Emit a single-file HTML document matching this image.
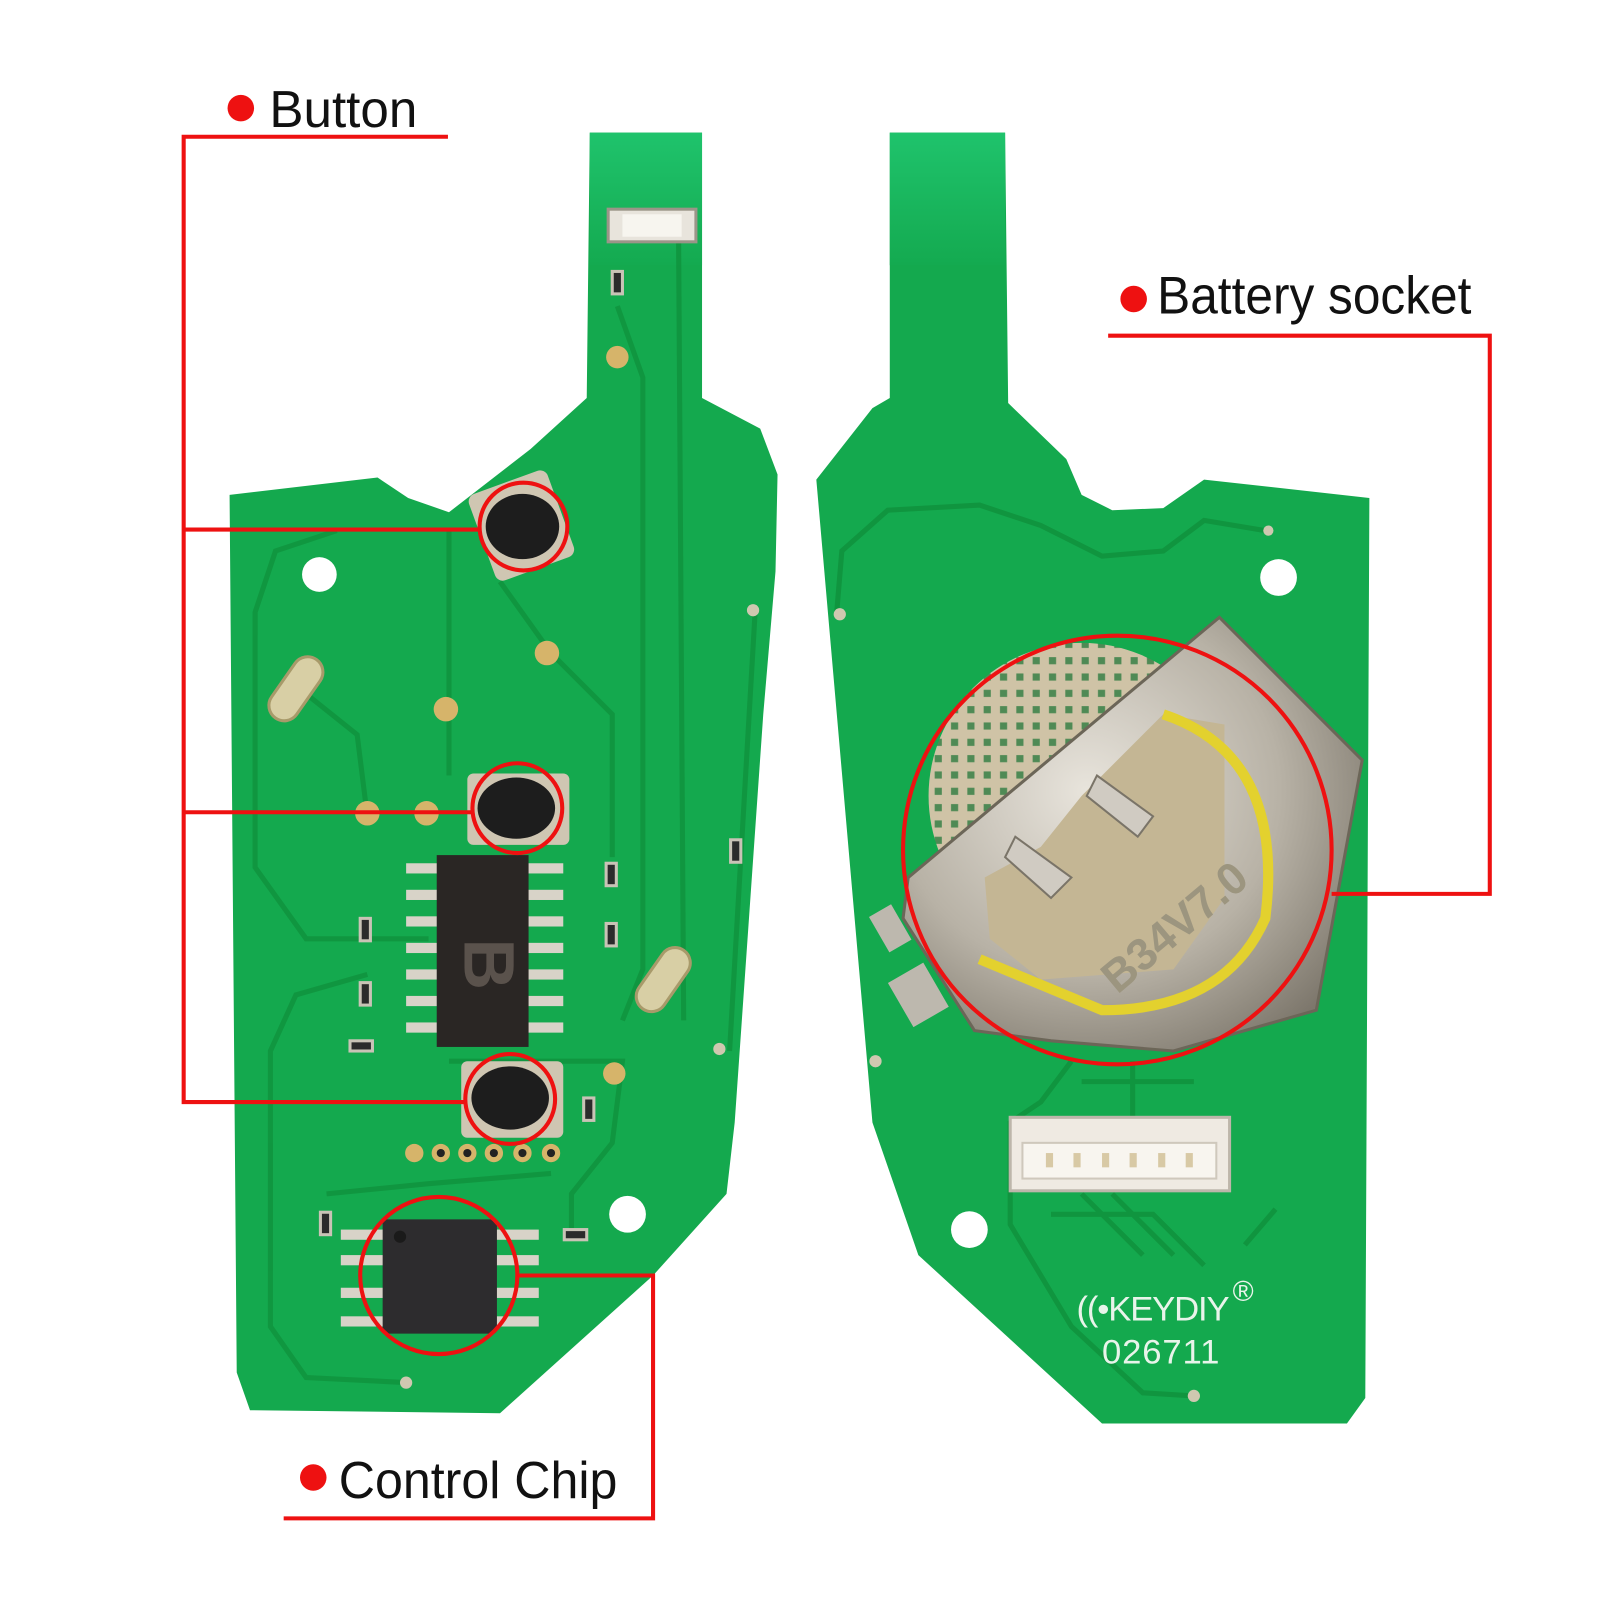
<!DOCTYPE html>
<html><head><meta charset="utf-8"><style>
html,body{margin:0;padding:0;background:#fff;}
svg{display:block}
text{font-family:"Liberation Sans","DejaVu Sans",sans-serif;}
</style></head><body>
<svg width="1600" height="1600" viewBox="0 0 1600 1600" xmlns="http://www.w3.org/2000/svg">
<defs>
<linearGradient id="tab" x1="0" y1="0" x2="0" y2="1">
<stop offset="0" stop-color="#1fc36c"/><stop offset="1" stop-color="#14aa50"/>
</linearGradient>
<radialGradient id="met" cx="0.4" cy="0.4" r="0.7">
<stop offset="0" stop-color="#e8e4dc"/><stop offset="0.6" stop-color="#b8b2a6"/><stop offset="1" stop-color="#7d776c"/>
</radialGradient>
<pattern id="dots" width="16" height="16" patternUnits="userSpaceOnUse">
<rect width="16" height="16" fill="#cfc3a6"/><rect x="4" y="4" width="7" height="7" fill="#4f8a55"/>
</pattern>
</defs>
<rect width="1600" height="1600" fill="#fff"/>
<g transform="scale(1.0204)">

<!-- LEFT PCB -->
<path d="M578 130 L688 130 L688 390 L745 420 L762 465 L760 560 L748 700 L720 1100 L712 1170 L640 1250 L490 1385 L245 1382 L232 1345 L225 485 L370 468 L400 488 L440 502 L520 440 L575 390 Z" fill="#14a94e"/>
<rect x="578" y="130" width="110" height="130" fill="url(#tab)"/>
<g fill="none" stroke="#10953f" stroke-width="5" opacity="0.9">
<path d="M330 520 L270 540 L250 600 L250 850 L300 920 L420 920"/>
<path d="M360 955 L290 975 L265 1030 L265 1300 L300 1350 L400 1355"/>
<path d="M605 300 L630 370 L630 950 L610 1000"/>
<path d="M665 230 L670 1000"/>
<path d="M440 520 L440 760"/>
<path d="M490 570 L540 640 L600 700 L600 840"/>
<path d="M740 600 L715 1030"/>
<path d="M300 680 L350 720 L360 800"/>
<path d="M440 1040 L610 1040 L600 1120 L560 1170 L560 1210"/>
<path d="M320 1170 L420 1160 L540 1150"/>
</g>
<circle cx="313" cy="563" r="17" fill="#fff"/>
<circle cx="615" cy="1190" r="18" fill="#fff"/>
<circle cx="605" cy="350" r="11" fill="#d6b46a"/>
<circle cx="536" cy="640" r="12" fill="#d6b46a"/>
<circle cx="437" cy="695" r="12" fill="#d6b46a"/>
<circle cx="360" cy="797" r="12" fill="#d6b46a"/>
<circle cx="418" cy="797" r="12" fill="#d6b46a"/>
<circle cx="602" cy="1052" r="11" fill="#d6b46a"/>
<circle cx="738" cy="598" r="6" fill="#cfc8b0"/>
<circle cx="705" cy="1028" r="6" fill="#cfc8b0"/>
<circle cx="398" cy="1355" r="6" fill="#cfc8b0"/>
<rect x="275" y="640" width="30" height="70" rx="15" transform="rotate(35 290 675)" fill="#d8cfa5" stroke="#a89a6a" stroke-width="3"/>
<rect x="635" y="925" width="30" height="70" rx="15" transform="rotate(35 650 960)" fill="#d8cfa5" stroke="#a89a6a" stroke-width="3"/>
<rect x="596" y="205" width="86" height="32" fill="#e8e4dc" stroke="#9b9588" stroke-width="3"/>
<rect x="610" y="210" width="58" height="22" fill="#f7f5ef"/>
<g fill="#2b2b2b" stroke="#c9c3b6" stroke-width="3">
<rect x="600" y="266" width="10" height="22"/>
<rect x="594" y="846" width="10" height="22"/>
<rect x="594" y="905" width="10" height="22"/>
<rect x="716" y="823" width="10" height="22"/>
<rect x="353" y="900" width="10" height="22"/>
<rect x="353" y="963" width="10" height="22"/>
<rect x="343" y="1020" width="22" height="10"/>
<rect x="572" y="1076" width="10" height="22"/>
<rect x="314" y="1188" width="10" height="22"/>
<rect x="553" y="1205" width="22" height="10"/>
</g>
<rect x="470" y="470" width="82" height="90" rx="8" fill="#cfc6b2" transform="rotate(-20 511 515)"/>
<ellipse cx="512" cy="516" rx="36" ry="32" fill="#1d1d1d"/>
<rect x="458" y="758" width="100" height="70" rx="6" fill="#cfc6b2"/>
<ellipse cx="506" cy="792" rx="38" ry="30" fill="#1d1d1d"/>
<rect x="452" y="1040" width="100" height="75" rx="6" fill="#cfc6b2"/>
<ellipse cx="500" cy="1076" rx="38" ry="31" fill="#1d1d1d"/>
<g fill="#d8d3c8">
<rect x="398" y="846" width="34" height="10"/><rect x="398" y="872" width="34" height="10"/><rect x="398" y="898" width="34" height="10"/><rect x="398" y="924" width="34" height="10"/><rect x="398" y="950" width="34" height="10"/><rect x="398" y="976" width="34" height="10"/><rect x="398" y="1002" width="34" height="10"/>
<rect x="514" y="846" width="38" height="10"/><rect x="514" y="872" width="38" height="10"/><rect x="514" y="898" width="38" height="10"/><rect x="514" y="924" width="38" height="10"/><rect x="514" y="950" width="38" height="10"/><rect x="514" y="976" width="38" height="10"/><rect x="514" y="1002" width="38" height="10"/>
</g>
<rect x="428" y="838" width="90" height="188" fill="#2a2624"/>
<text x="478" y="968" font-size="70" font-weight="bold" fill="#5a524c" text-anchor="middle" transform="rotate(90 478 945)">B</text>
<g fill="#d6b46a"><circle cx="406" cy="1130" r="9"/><circle cx="432" cy="1130" r="9"/><circle cx="458" cy="1130" r="9"/><circle cx="484" cy="1130" r="9"/><circle cx="512" cy="1130" r="9"/><circle cx="540" cy="1130" r="9"/></g>
<g fill="#222"><circle cx="432" cy="1130" r="4"/><circle cx="458" cy="1130" r="4"/><circle cx="484" cy="1130" r="4"/><circle cx="512" cy="1130" r="4"/><circle cx="540" cy="1130" r="4"/></g>
<g fill="#d8d3c8">
<rect x="334" y="1205" width="44" height="10"/><rect x="334" y="1230" width="44" height="10"/><rect x="334" y="1262" width="44" height="10"/><rect x="334" y="1290" width="44" height="10"/>
<rect x="484" y="1205" width="44" height="10"/><rect x="484" y="1230" width="44" height="10"/><rect x="484" y="1262" width="44" height="10"/><rect x="484" y="1290" width="44" height="10"/>
</g>
<rect x="375" y="1195" width="112" height="112" rx="4" fill="#2d2c2e"/>
<circle cx="392" cy="1212" r="6" fill="#1a1a1a"/>

<!-- RIGHT PCB -->
<path d="M872 130 L985 130 L988 395 L1045 450 L1060 485 L1090 500 L1140 498 L1180 470 L1342 488 L1338 1370 L1320 1395 L1080 1395 L900 1230 L855 1100 L800 470 L855 400 L872 390 Z" fill="#14a94e"/>
<rect x="872" y="130" width="113" height="130" fill="url(#tab)"/>
<g fill="none" stroke="#10953f" stroke-width="5">
<path d="M820 600 L825 540 L870 500 L960 495 L1020 515 L1080 545 L1140 540 L1180 510 L1240 520"/>
<path d="M1050 1040 L1020 1080 L990 1100 L990 1200 L1050 1300 L1120 1365 L1170 1368"/>
<path d="M1030 1190 L1130 1190 L1180 1240 M1060 1170 L1120 1230 M1090 1170 L1150 1230 M1220 1220 L1250 1185"/>
<path d="M1110 1040 L1110 1100 M1060 1060 L1170 1060"/>
</g>
<circle cx="1253" cy="566" r="18" fill="#fff"/>
<circle cx="950" cy="1205" r="18" fill="#fff"/>
<circle cx="823" cy="602" r="6" fill="#cfc8b0"/>
<circle cx="858" cy="1040" r="6" fill="#cfc8b0"/>
<circle cx="1170" cy="1368" r="6" fill="#cfc8b0"/>
<circle cx="1243" cy="520" r="5" fill="#cfc8b0"/>
<circle cx="1060" cy="780" r="150" fill="url(#dots)"/>
<path d="M1195 605 L1335 745 L1290 990 L1150 1030 L1030 1020 L955 1010 L885 900 L890 860 Z" fill="url(#met)" stroke="#6c6658" stroke-width="3"/>
<path d="M1140 700 L1200 710 L1200 880 L1150 950 L1020 960 L970 920 L965 860 L1020 830 L1060 780 Z" fill="#c4b694"/>
<path d="M1140 700 Q1260 740 1240 900 Q1200 990 1080 990 L960 940" fill="none" stroke="#e3d12e" stroke-width="10"/>
<path d="M995 820 L1050 860 L1030 880 L985 840 Z" fill="#d0cbc2" stroke="#7a7468" stroke-width="2"/>
<path d="M1075 760 L1130 800 L1115 820 L1065 780 Z" fill="#d0cbc2" stroke="#7a7468" stroke-width="2"/>
<text x="1095" y="975" font-size="44" font-weight="bold" fill="#9c957f" transform="rotate(-40 1095 975)">B34V7.0</text>
<rect x="860" y="890" width="25" height="40" fill="#bdb8ae" transform="rotate(-30 872 910)"/>
<rect x="880" y="950" width="40" height="50" fill="#bdb8ae" transform="rotate(-30 900 975)"/>
<rect x="990" y="1095" width="215" height="72" fill="#efeae2" stroke="#bdb6aa" stroke-width="3"/>
<rect x="1002" y="1120" width="190" height="35" fill="#f8f5ef" stroke="#cfc8bc" stroke-width="2"/>
<g fill="#d8c9a5"><rect x="1025" y="1130" width="7" height="14"/><rect x="1052" y="1130" width="7" height="14"/><rect x="1080" y="1130" width="7" height="14"/><rect x="1107" y="1130" width="7" height="14"/><rect x="1135" y="1130" width="7" height="14"/><rect x="1162" y="1130" width="7" height="14"/></g>
<text x="1055" y="1294" font-size="34" fill="#e8f4ea" textLength="150">((•KEYDIY</text>
<text x="1208" y="1275" font-size="28" fill="#e8f4ea">®</text>
<text x="1080" y="1336" font-size="34" fill="#e8f4ea" textLength="115">026711</text>

<!-- ANNOTATIONS -->
<g fill="none" stroke="#ee1111" stroke-width="4">
<path d="M439 134 L180 134 L180 1080 L455 1080"/>
<path d="M180 519 L470 519"/>
<path d="M180 796 L463 796"/>
<circle cx="513" cy="516" r="43"/>
<circle cx="507" cy="792" r="44"/>
<circle cx="500" cy="1077" r="44"/>
<circle cx="430" cy="1250" r="77"/>
<path d="M507 1250 L640 1250 L640 1488 L278 1488"/>
<path d="M1086 329 L1460 329 L1460 876 L1305 876"/>
<circle cx="1095" cy="833" r="210"/>
</g>
<g fill="#ee1111">
<circle cx="236" cy="106" r="13"/>
<circle cx="307" cy="1448" r="13"/>
<circle cx="1111" cy="293" r="13"/>
</g>
<text x="264" y="124.5" font-size="51" fill="#111" textLength="145" lengthAdjust="spacingAndGlyphs">Button</text>
<text x="332" y="1468" font-size="51" fill="#111" textLength="273" lengthAdjust="spacingAndGlyphs">Control Chip</text>
<text x="1134" y="307" font-size="52" fill="#111" textLength="308" lengthAdjust="spacingAndGlyphs">Battery socket</text>
</g>
</svg>
</body></html>
